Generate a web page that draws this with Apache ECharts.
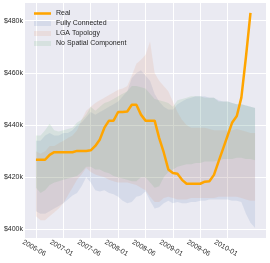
<!DOCTYPE html>
<html><head><meta charset="utf-8">
<script src="https://cdn.jsdelivr.net/npm/echarts@6/dist/echarts.min.js"></script>
<style>html,body{margin:0;padding:0;background:#fff}#c{width:270px;height:263px}</style>
</head><body><div id="c"></div>
<script>
// Monthly index 0 = 2006-06
const tickLabels = ['2006-06','2007-01','2007-06','2008-01','2008-06','2009-01','2009-06','2010-01'];
const tickIdx = [0,6,12,18,24,30,36,42];
const yTicks = [400,420,440,460,480];

const real = [426.7,426.7,426.7,428.6,429.6,429.6,429.6,429.6,429.6,430.1,
  430.1,430.1,430.3,432,434.5,439,441.7,441.7,445,445,
  445.2,447.8,447.8,444,441.7,441.7,441.7,435,429.5,423,
  421.6,421.3,419,417.5,417.5,417.5,417.5,418.3,418.5,420.9,
  426,431,436,441,443.5,450.5,466,483];

const fullLo = [407,406,406,407,408,409,410,411.5,413,414,
  416.5,420,418,415,414.5,415,414,413.5,412.5,411,
  410,410.5,412.5,413,414.5,411,408,408.5,410,411,
  410,410.5,410,410,410.5,410.5,411,411,411.5,411.5,
  411.5,411.5,411.5,411,411,410.5,406,402.5,400.5];
const fullHi = [434,434,436,437,436,436,437,437,438,440,
  441,443,445,444,445,446,447,448,449,451,
  453,458,460,461,459,457,452,449,447,446,
  446,448,449,450,450.5,451,451,451,450.5,450.5,
  449.5,449,449,448.5,448,448,447.5,447,446.5];

const lgaLo = [405,403.5,403.5,405,406.5,408,410,413,416,419,
  421,423.5,422,421,420.5,420,419,418.5,418,418,
  418,417.5,417,416,415,412.5,410.5,410.5,412,412.5,
  412,411.5,411.5,411.5,412,412,412,412,412,412,
  412.5,412.5,412.5,412.5,412.5,412,411.5,411,411];
const lgaHi = [430,429,430,432,432,433,434,435,436,438,
  442,445.5,447,448.5,449.5,450.5,451.5,452.5,453.5,454,
  455,459,463.5,465,467,472,460,457,455,453,
  449,445,442,440,439,439,439,439,438.5,438,
  438,438,438,438,438.5,438,437.5,437,437];

const nsLo = [416,414,415,417,418,418.5,419,419.5,420,420.5,
  422,424,424,423,423,422,421.5,420.5,420,419.5,
  419,418.5,418.5,420,420,418,416,416.5,420,422,
  423,424,424.5,425,425,425.5,425.5,426,426,426,
  426.5,427,427,427,427.5,427.5,427,427,426.5];
const nsHi = [436,436,438,440.5,438,437.5,438,438.5,439,441,
  442,444,447,445.5,447,448.5,449,450,451,452,
  453,455,455,454.5,454,452,450,449.5,449,448.5,
  447,449.5,450,450.5,451,451,451,450.5,450.5,450.5,
  449,449,449,448.5,448,448,447.5,447,446.5];

const cBlue = 'rgba(76,114,176,0.13)';
const cPeach = 'rgba(221,132,82,0.13)';
const cGreen = 'rgba(85,168,104,0.13)';

function band(name, lo, hi, color) {
  const rows = lo.map((v, i) => [i, v, hi[i]]);
  return {
    name: name, type: 'custom', silent: true, color: color,
    itemStyle: {color: color},
    encode: {x: 0, y: [1, 2]},
    data: rows,
    renderItem: function (params, api) {
      if (params.dataIndex !== 0) return null;
      const pts = [];
      for (let i = 0; i < rows.length; i++) pts.push(api.coord([rows[i][0], rows[i][2]]));
      for (let i = rows.length - 1; i >= 0; i--) pts.push(api.coord([rows[i][0], rows[i][1]]));
      return {type: 'polygon', shape: {points: pts}, style: {fill: color}};
    }
  };
}

const chart = echarts.init(document.getElementById('c'));
const font = 'Liberation Sans, Arial, sans-serif';
chart.setOption({
  animation: false,
  grid: {left: 25, right: 4, top: 3, bottom: 25, show: true, backgroundColor: '#eaeaf2', borderWidth: 0},
  legend: {
    left: 29, top: 5, orient: 'vertical', itemWidth: 17, itemHeight: 5, itemGap: 3,
    textStyle: {fontFamily: font, fontSize: 7, color: '#262626', lineHeight: 7},
    data: [
      {name: 'Real', icon: 'path://M0,0H20V3H0Z', itemStyle: {color: '#ffa500'}},
      {name: 'Fully Connected', icon: 'rect', itemStyle: {color: cBlue}},
      {name: 'LGA Topology', icon: 'rect', itemStyle: {color: cPeach}},
      {name: 'No Spatial Component', icon: 'rect', itemStyle: {color: cGreen}}
    ]
  },
  xAxis: {
    type: 'value', min: -2.4, max: 50.4,
    axisLine: {show: false},
    axisTick: {show: false, customValues: tickIdx},
    splitLine: {show: true, lineStyle: {color: '#ffffff', width: 1}},
    axisLabel: {
      customValues: tickIdx, rotate: -30, margin: 7, align: 'center', verticalAlign: 'top',
      fontFamily: font, fontSize: 7, color: '#262626',
      formatter: v => tickLabels[tickIdx.indexOf(Math.round(v))] || ''
    }
  },
  yAxis: {
    type: 'value', min: 396.7, max: 486.8,
    axisLine: {show: false},
    axisTick: {show: false, customValues: yTicks},
    splitLine: {show: true, lineStyle: {color: '#ffffff', width: 1}},
    axisLabel: {customValues: yTicks, margin: 2, fontFamily: font, fontSize: 7, color: '#262626',
      formatter: v => '$' + Math.round(v) + 'k'}
  },
  series: [
    band('Fully Connected', fullLo, fullHi, cBlue),
    band('LGA Topology', lgaLo, lgaHi, cPeach),
    band('No Spatial Component', nsLo, nsHi, cGreen),
    {name: 'Real', type: 'line', symbol: 'none', showSymbol: false, color: '#ffa500', z: 5,
     lineStyle: {width: 2.5, color: '#ffa500'}, data: real.map((v, i) => [i, v])}
  ]
});
</script></body></html>
